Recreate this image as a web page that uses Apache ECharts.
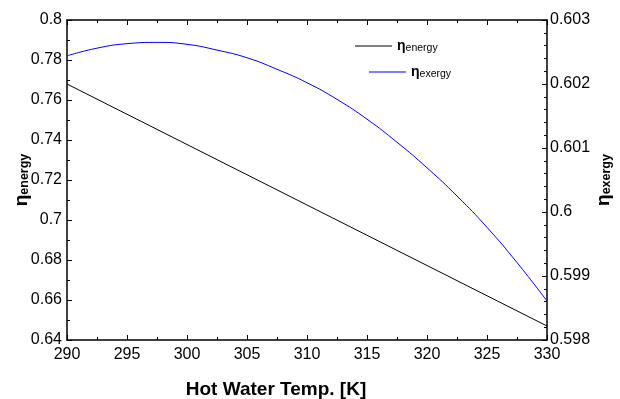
<!DOCTYPE html>
<html><head><meta charset="utf-8">
<script src="https://cdn.jsdelivr.net/npm/echarts@6/dist/echarts.min.js"></script>
<style>html,body{margin:0;padding:0;background:#fff}#c{width:620px;height:399px}</style>
</head><body><div id="c"></div>
<script>
const energyT = [290, 310, 330];
const energyVals = [0.768, 0.7075, 0.647];
const exergyT = [290, 292.5, 295, 297.5, 300, 302.5, 305, 307.5, 310, 312.5, 315, 317.5, 320, 322.5, 325, 327.5, 330];
const exergyVals = [0.60244, 0.60256, 0.60263, 0.60265, 0.60262, 0.60253, 0.60241, 0.60223, 0.60202, 0.60176, 0.60145, 0.60109, 0.60069, 0.60025, 0.59976, 0.59921, 0.59861];
const xTicks = {min: 290, max: 330, interval: 5};
const leftTicks = {min: 0.64, max: 0.8, interval: 0.02};
const rightTicks = {min: 0.598, max: 0.603, interval: 0.001};

const font = 'Liberation Sans, Arial, sans-serif';
const axisLine = {show: true, onZero: false, lineStyle: {color: '#000', width: 1.5}};
const lbl = {color: '#000', fontSize: 16, fontFamily: font};
const richName = {
  eta: {fontSize: 19, fontWeight: 'bold', color: '#000', fontFamily: font},
  sub: {fontSize: 12.5, fontWeight: 'bold', color: '#000', fontFamily: font, padding: [6, 0, 0, 0]}
};
const legRich = {
  eta: {fontSize: 14, fontWeight: 'bold', color: '#000', fontFamily: font},
  sub: {fontSize: 10.5, color: '#000', fontFamily: font, padding: [4, 0, 0, 0]}
};
const chart = echarts.init(document.getElementById('c'));
chart.setOption({
  animation: false,
  backgroundColor: '#fff',
  grid: {left: 67, right: 73, top: 20, bottom: 59, containLabel: false, outerBoundsMode: 'none'},
  legend: [
    {left: 350, top: 34, itemWidth: 37, itemHeight: 1, itemGap: 0, icon: 'rect',
     data: [{name: 'energy', itemStyle: {color: '#000'}}],
     formatter: () => '{eta|η}{sub|energy}', textStyle: {rich: legRich}},
    {left: 364, top: 60, itemWidth: 37, itemHeight: 1, itemGap: 0, icon: 'rect',
     data: [{name: 'exergy', itemStyle: {color: '#0000ff'}}],
     formatter: () => '{eta|η}{sub|exergy}', textStyle: {rich: legRich}}
  ],
  xAxis: [
    {type: 'value', min: xTicks.min, max: xTicks.max, interval: xTicks.interval, position: 'bottom',
     axisLine, axisTick: {inside: true, length: 5, lineStyle: {color: '#000'}},
     minorTick: {show: true, splitNumber: 2, length: 3, lineStyle: {color: '#000'}},
     splitLine: {show: false}, axisLabel: Object.assign({margin: 7}, lbl),
     name: 'Hot Water Temp. [K]', nameLocation: 'middle', nameGap: 40,
     nameTextStyle: {fontSize: 19, fontWeight: 'bold', color: '#000', fontFamily: font, padding: [0, 62, 0, 0]}},
    {type: 'value', min: xTicks.min, max: xTicks.max, interval: xTicks.interval, position: 'top',
     axisLine, axisTick: {inside: true, length: 5, lineStyle: {color: '#000'}},
     minorTick: {show: true, splitNumber: 2, length: 3, lineStyle: {color: '#000'}},
     splitLine: {show: false}, axisLabel: {show: false}}
  ],
  yAxis: [
    {type: 'value', min: leftTicks.min, max: leftTicks.max, interval: leftTicks.interval, position: 'left',
     axisLine, axisTick: {inside: true, length: 5, lineStyle: {color: '#000'}},
     minorTick: {show: true, splitNumber: 2, length: 3, lineStyle: {color: '#000'}},
     splitLine: {show: false}, axisLabel: Object.assign({margin: 5}, lbl),
     name: '{eta|η}{sub|energy}', nameLocation: 'middle', nameGap: 36, nameRotate: 90, nameMoveOverlap: false,
     nameTextStyle: {rich: richName}},
    {type: 'value', min: rightTicks.min, max: rightTicks.max, interval: rightTicks.interval, position: 'right',
     axisLine, axisTick: {inside: true, length: 5, lineStyle: {color: '#000'}},
     minorTick: {show: true, splitNumber: 5, length: 3, lineStyle: {color: '#000'}},
     splitLine: {show: false}, axisLabel: Object.assign({margin: 3}, lbl),
     name: '{eta|η}{sub|exergy}', nameLocation: 'middle', nameGap: 47, nameRotate: 90, nameMoveOverlap: false,
     nameTextStyle: {rich: richName}}
  ],
  series: [
    {name: 'energy', type: 'line', xAxisIndex: 0, yAxisIndex: 0, symbol: 'none', color: '#000',
     data: energyT.map((t, i) => [t, energyVals[i]]),
     lineStyle: {color: '#000', width: 1}, itemStyle: {color: '#000'}},
    {name: 'exergy', type: 'line', xAxisIndex: 0, yAxisIndex: 1, symbol: 'none', smooth: true, color: '#0000ff',
     data: exergyT.map((t, i) => [t, exergyVals[i]]),
     lineStyle: {color: '#0000ff', width: 1}, itemStyle: {color: '#0000ff'}}
  ]
});
</script></body></html>
